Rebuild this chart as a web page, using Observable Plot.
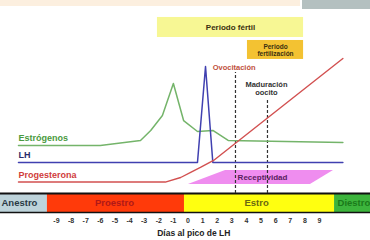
<!DOCTYPE html>
<html><head><meta charset="utf-8">
<script src="https://cdn.jsdelivr.net/npm/d3@7"></script>
<script src="https://cdn.jsdelivr.net/npm/@observablehq/plot@0.6"></script>
<style>
body{margin:0;background:#fff;}
#wrap{position:relative;width:370px;height:240px;overflow:hidden;font-family:"Liberation Sans",Arial,sans-serif;}
#band{position:absolute;left:0;top:0;width:300px;height:6px;background:#fcefdf;}
#grey{position:absolute;left:302px;top:0;width:68px;height:9px;background:#b4c0c0;}
#chart{position:absolute;left:0;top:0;}
</style></head><body>
<div id="wrap"><div id="band"></div><div id="grey"></div><div id="chart"></div></div>
<script>
// Hormone curves (x = días al pico de LH, y = nivel relativo)
const estDays  = [-11.6, -6.0, -3.25, -2.55, -1.75, -1.0, -0.3, 0.65, 1.7, 2.75, 10.6];
const estLevel = [34.6, 34.6, 38.5, 46.2, 57.7, 82.3, 53.8, 45.4, 46.2, 38.5, 36.9];
const lhDays   = [-11.6, 0.65, 1.2, 1.7, 10.6];
const lhLevel  = [21.5, 21.5, 95.4, 21.5, 21.5];
const progDays  = [-11.6, -1.55, -0.5, 0.15, 0.85, 1.75, 10.6];
const progLevel = [6.5, 6.5, 10.0, 13.8, 17.7, 23.1, 101.5];

// Phases of the cycle
const phaseNames = ["Anestro", "Proestro", "Estro", "Diestro"];
const phaseStart = [-12.83, -9.62, -0.24, 10.03];
const phaseEnd   = [-9.62, -0.24, 10.03, 12.49];
const barTop = -2.3, barBottom = -16.92;

// Tick labels
const tickDays = [-9,-8,-7,-6,-5,-4,-3,-2,-1,0,1,2,3,4,5,6,7,8,9];

// Events (dashed lines)
const eventNames = ["Ovocitación", "Maduración oocito"];
const eventDays  = [3.25, 5.44];
const eventTop   = [90.8, 69.2];

// Periods (boxes)
const periodNames  = ["Periodo fértil", "Periodo\nfertilización"];
const periodStart  = [-2.09, 4.07];
const periodEnd    = [7.91, 7.91];
const periodTop    = [133.1, 115.4];
const periodBottom = [117.7, 100.8];

// Receptividad band
const recDays = [0.03, 2.57, 8.38, 9.96];
const recLow  = [4.6, 4.6, 4.6, 15.4];
const recHigh = [4.6, 15.4, 15.4, 15.4];

const estro = estDays.map((d,i)=>({d, v:estLevel[i]}));
const lh = lhDays.map((d,i)=>({d, v:lhLevel[i]}));
const prog = progDays.map((d,i)=>({d, v:progLevel[i]}));
const phaseColors = ["#bdd3da","#ff3a0a","#ffff10","#3cb43c"];
const phaseText = ["#2a3a44","#b01818","#6a6a10","#1a7a1a"];
const phases = phaseNames.map((n,i)=>({n, a:phaseStart[i], b:phaseEnd[i], fill:phaseColors[i], tc:phaseText[i]}));
const periods = periodNames.map((n,i)=>({n, a:periodStart[i], b:periodEnd[i], t:periodTop[i], bo:periodBottom[i]}));
const events = eventNames.map((n,i)=>({n, d:eventDays[i], top:eventTop[i]}));
const rec = recDays.map((d,i)=>({d, lo:recLow[i], hi:recHigh[i]}));
const font = "Liberation Sans, Arial, sans-serif";

const chart = Plot.plot({
  width: 370, height: 240,
  marginTop: 0, marginLeft: 0, marginRight: 0, marginBottom: 28,
  x: {domain: [-12.83, 12.49], axis: null},
  y: {domain: [barBottom, 146.15], axis: null},
  style: {background: "transparent", fontFamily: font},
  marks: [
    Plot.rect(phases, {x1:"a", x2:"b", y1:()=>barBottom, y2:()=>barTop, fill:d=>d.fill}),
    Plot.ruleY([barTop], {stroke:"#111", strokeWidth:2}),
    Plot.ruleY([barBottom], {stroke:"#111", strokeWidth:1.5}),
    Plot.text(phases.filter(p=>p.n!=="Anestro" && p.n!=="Diestro"), {x:d=>(d.a+d.b)/2 - (d.n==="Proestro"?0.1:0.2), y:()=>(barTop+barBottom)/2, text:"n", fill:d=>d.tc, fontSize:9.5, fontWeight:"bold"}),
    Plot.text(phases.filter(p=>p.n==="Anestro"), {x:d=>d.a, y:()=>(barTop+barBottom)/2, dx:1, text:"n", textAnchor:"start", fill:d=>d.tc, fontSize:9.5, fontWeight:"bold"}),
    Plot.text(phases.filter(p=>p.n==="Diestro"), {x:d=>d.a, y:()=>(barTop+barBottom)/2, dx:3, text:"n", textAnchor:"start", fill:d=>d.tc, fontSize:9.5, fontWeight:"bold"}),
    Plot.rect(periods, {x1:"a", x2:"b", y1:"bo", y2:"t", fill:(d,i)=>i===0?"#f7f794":"#f3c232"}),
    Plot.text(periods, {x:d=>(d.a+d.b)/2, y:d=>(d.t+d.bo)/2, text:"n", fill:"#3a3010", fontSize:(d,i)=>i===0?8:6.5, fontWeight:"bold", lineHeight:1.1}),
    Plot.areaY(rec, {x:"d", y1:"lo", y2:"hi", fill:"#ef8def", curve:"linear"}),
    Plot.text(["Receptividad"], {x:()=>5.1, y:()=>10, text:d=>d, fill:"#5a2060", fontSize:8, fontWeight:"bold"}),
    Plot.ruleX(events, {x:"d", y1:()=>barTop, y2:"top", stroke:"#333", strokeWidth:1.2, strokeDasharray:"3,2"}),
    Plot.line(estro, {x:"d", y:"v", stroke:"#74b46a", strokeWidth:1.5}),
    Plot.line(lh, {x:"d", y:"v", stroke:"#4040b0", strokeWidth:1.5}),
    Plot.line(prog, {x:"d", y:"v", stroke:"#d25050", strokeWidth:1.4}),
    Plot.text(["Estrógenos"], {x:()=>estDays[0], y:()=>40, text:d=>d, textAnchor:"start", fill:"#4a9a40", fontSize:9, fontWeight:"bold"}),
    Plot.text(["LH"], {x:()=>lhDays[0], y:()=>26.9, text:d=>d, textAnchor:"start", fill:"#2a2a6a", fontSize:9, fontWeight:"bold"}),
    Plot.text(["Progesterona"], {x:()=>progDays[0], y:()=>11.5, text:d=>d, textAnchor:"start", fill:"#d03c3c", fontSize:9, fontWeight:"bold"}),
    Plot.text([events[0]], {x:()=>1.69, y:()=>94.6, text:"n", textAnchor:"start", fill:"#c0503c", fontSize:7.5, fontWeight:"bold"}),
    Plot.text([events[1]], {x:()=>5.37, y:()=>78.8, text:()=>"Maduración\noocito", fill:"#333", fontSize:7.5, fontWeight:"bold", lineHeight:1.15}),
    Plot.axisX({ticks: tickDays, tickSize: 0, tickPadding: 6, tickFormat: d=>String(d), label: null, fontSize: 7, fontWeight: "bold", fill: "#333"}),
    Plot.text(["Días al pico de LH"], {frameAnchor:"bottom", x:()=>0.4, dy:23, text:d=>d, fill:"#222", fontSize:8.5, fontWeight:"bold"})
  ]
});
document.getElementById("chart").appendChild(chart);
</script>
</body></html>
